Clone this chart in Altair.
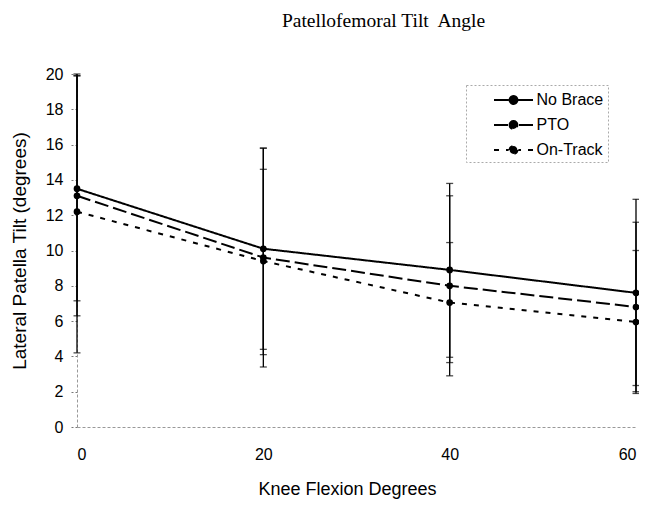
import altair as alt
import pandas as pd

angles = [0, 20, 40, 60]
series = ["No Brace", "PTO", "On-Track"]

no_brace = [13.5, 10.1, 8.9, 7.6]
pto = [13.1, 9.6, 8.0, 6.8]
on_track = [12.2, 9.4, 7.05, 5.95]

no_brace_low = [7.15, 4.4, 3.95, 2.35]
no_brace_high = [19.9, 15.8, 13.8, 12.9]
pto_low = [6.3, 4.1, 2.9, 2.0]
pto_high = [19.9, 14.6, 13.1, 11.6]
on_track_low = [4.2, 3.4, 3.65, 1.9]
on_track_high = [20.0, 15.8, 10.45, 10.0]

y_ticks = list(range(0, 21, 2))

rows = []
for name, m, lo, hi in zip(series,
                           [no_brace, pto, on_track],
                           [no_brace_low, pto_low, on_track_low],
                           [no_brace_high, pto_high, on_track_high]):
    for a, v, l, h in zip(angles, m, lo, hi):
        rows.append({"angle": a, "series": name, "tilt": v, "low": l, "high": h})
df = pd.DataFrame(rows)

FONT = "Liberation Sans"
xscale = alt.Scale(domain=[0, 60], nice=False, zero=False)
yscale = alt.Scale(domain=[0, 20], nice=False)

x_axis = alt.Axis(values=angles, title="Knee Flexion Degrees", ticks=False,
                  labelPadding=19, titlePadding=18, grid=False,
                  domainColor="#999", domainDash=[3, 2], domainWidth=1,
                  labelFont=FONT, labelFontSize=16, labelColor="black",
                  titleFont=FONT, titleFontSize=18, titleFontWeight="normal",
                  titleColor="black", titleX=270)
y_axis = alt.Axis(values=y_ticks, title="Lateral Patella Tilt (degrees)",
                  tickSize=7, tickColor="#777", tickDash=[2, 2], tickWidth=1,
                  labelPadding=7, titlePadding=16, grid=False,
                  domainColor="#999", domainDash=[3, 2], domainWidth=1,
                  labelFont=FONT, labelFontSize=16, labelColor="black",
                  titleFont=FONT, titleFontSize=19, titleFontWeight="normal",
                  titleColor="black")

base = alt.Chart(df)

# legend symbol: line through a dot; drawn at twice the unit extent
legend_path = ("M-2,0H-0.5M2,0H0.5"
               "M-0.4,0A0.4,0.4 0 1,1 0.4,0A0.4,0.4 0 1,1 -0.4,0Z")

errbars = base.mark_errorbar(ticks=True, size=7, thickness=1.3, color="black").encode(
    x=alt.X("angle:Q", scale=xscale, axis=x_axis),
    y=alt.Y("low:Q", scale=yscale, axis=y_axis),
    y2="high:Q",
)

lines = base.mark_line(color="black", strokeWidth=2).encode(
    x=alt.X("angle:Q", scale=xscale, axis=x_axis),
    y=alt.Y("tilt:Q", scale=yscale, axis=y_axis),
    strokeDash=alt.StrokeDash(
        "series:N",
        scale=alt.Scale(domain=series, range=[[1, 0], [14, 5], [5, 7]]),
        sort=series,
        legend=alt.Legend(title=None, orient="none", legendX=389, legendY=11,
                          symbolType=legend_path, symbolSize=380,
                          symbolStrokeWidth=2, symbolFillColor="black",
                          symbolStrokeColor="black", symbolOffset=32.5,
                          labelFont=FONT, labelFontSize=16, labelColor="black",
                          labelOffset=12, padding=4, rowPadding=6,
                          strokeColor="#aaa", fillColor="white"),
    ),
    order="angle:Q",
)

points = base.mark_circle(size=45, color="black", opacity=1).encode(
    x=alt.X("angle:Q", scale=xscale, axis=x_axis),
    y=alt.Y("tilt:Q", scale=yscale, axis=y_axis),
)

chart = alt.layer(errbars, lines, points).properties(
    width=559,
    height=353,
    padding={"left": 69, "top": 66, "right": 3, "bottom": 72},
    autosize=alt.AutoSizeParams(type="none"),
    title=alt.TitleParams("Patellofemoral Tilt\u00a0 Angle", font="Liberation Serif",
                          fontSize=19.5, fontWeight="normal", color="black",
                          anchor="middle", dx=27, offset=35),
).configure_view(stroke=None).configure_legend(strokeDash=[2, 2])

chart.save("out.html", embed_options={"renderer": "svg", "actions": False})
